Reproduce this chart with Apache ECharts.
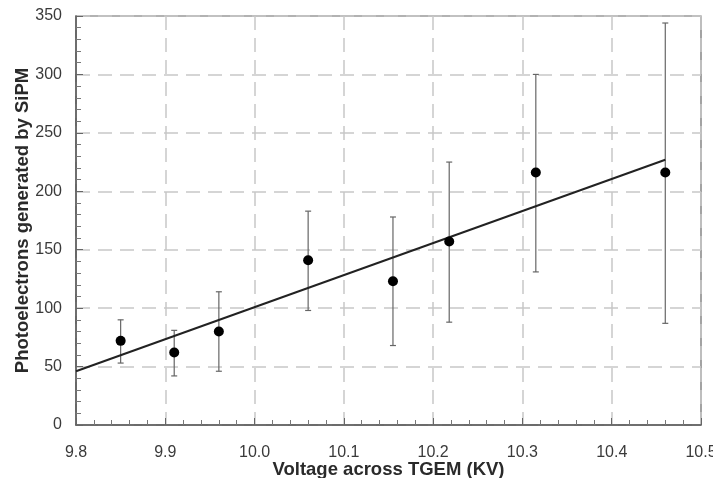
<!DOCTYPE html>
<html>
<head>
<meta charset="utf-8">
<script src="https://cdn.jsdelivr.net/npm/echarts@6/dist/echarts.min.js"></script>
<style>
  html, body { margin: 0; padding: 0; background: #fff; }
  #chart { width: 713px; height: 478px; }
</style>
</head>
<body>
<div id="chart"></div>
<script>
var voltage = [9.85, 9.91, 9.96, 10.06, 10.155, 10.218, 10.315, 10.46];
var photoelectrons = [72, 62, 80, 141, 123, 157, 216, 216];
var errLow = [53, 42, 46, 98, 68, 88, 131, 87];
var errHigh = [90, 81, 114, 183, 178, 225, 300, 344];
var fitX = [9.8, 10.46];
var fitY = [46, 227];

var points = voltage.map(function (v, i) { return [v, photoelectrons[i]]; });
var bars = voltage.map(function (v, i) { return [v, errLow[i], errHigh[i]]; });
var fit = fitX.map(function (v, i) { return [v, fitY[i]]; });

var myChart = echarts.init(document.getElementById('chart'));
var labelFont = 'Liberation Sans, Arial, sans-serif';

var option = {
    animation: false,
    grid: {
        left: 76,
        right: 12,
        top: 16,
        bottom: 53,
        outerBoundsMode: 'none',
        containLabel: false,
        show: true,
        borderColor: '#666',
        borderWidth: 1.2
    },
    xAxis: {
        type: 'value',
        min: 9.8,
        max: 10.5,
        interval: 0.1,
        name: 'Voltage across TGEM (KV)',
        nameLocation: 'middle',
        nameGap: 35,
        nameMoveOverlap: false,
        nameTextStyle: { color: '#2a2a2a', fontSize: 18.5, fontWeight: 'bold', fontFamily: labelFont },
        axisLine: { lineStyle: { color: '#555', width: 1.5 } },
        axisTick: { inside: true, length: 7, lineStyle: { color: '#666' } },
        minorTick: { show: true, splitNumber: 5, length: 5, lineStyle: { color: '#777' } },
        axisLabel: {
            color: '#3a3a3a', fontSize: 16, fontFamily: labelFont, margin: 20,
            formatter: function (v) { return v.toFixed(1); }
        },
        splitLine: { show: true, lineStyle: { color: '#c8c8c8', width: 1.5, type: [14, 8] } }
    },
    yAxis: {
        type: 'value',
        min: 0,
        max: 350,
        interval: 50,
        name: 'Photoelectrons generated by SiPM',
        nameLocation: 'middle',
        nameGap: 44,
        nameMoveOverlap: false,
        nameTextStyle: { color: '#2a2a2a', fontSize: 18.5, fontWeight: 'bold', fontFamily: labelFont },
        axisLine: { show: true, lineStyle: { color: '#555', width: 1.5 } },
        axisTick: { show: true, inside: true, length: 7, lineStyle: { color: '#666' } },
        minorTick: { show: true, splitNumber: 5, length: 5, lineStyle: { color: '#777' } },
        axisLabel: { color: '#3a3a3a', fontSize: 16, fontFamily: labelFont, margin: 14 },
        splitLine: { show: true, lineStyle: { color: '#c8c8c8', width: 1.5, type: [14, 8] } }
    },
    series: [
        {
            name: 'error',
            type: 'custom',
            data: bars,
            z: 2,
            renderItem: function (params, api) {
                var x = api.value(0);
                var lo = api.coord([x, api.value(1)]);
                var hi = api.coord([x, api.value(2)]);
                var cap = 3;
                var style = { stroke: '#666', lineWidth: 1.2 };
                return {
                    type: 'group',
                    children: [
                        { type: 'line', shape: { x1: lo[0], y1: lo[1], x2: hi[0], y2: hi[1] }, style: style },
                        { type: 'line', shape: { x1: lo[0] - cap, y1: lo[1], x2: lo[0] + cap, y2: lo[1] }, style: style },
                        { type: 'line', shape: { x1: hi[0] - cap, y1: hi[1], x2: hi[0] + cap, y2: hi[1] }, style: style }
                    ]
                };
            }
        },
        {
            name: 'fit',
            type: 'line',
            data: fit,
            symbol: 'none',
            z: 3,
            lineStyle: { color: '#222', width: 2 }
        },
        {
            name: 'data',
            type: 'scatter',
            data: points,
            symbol: 'circle',
            symbolSize: 10,
            z: 4,
            itemStyle: { color: '#000', opacity: 1 }
        }
    ]
};

option && myChart.setOption(option);
window.addEventListener('resize', function () {
    myChart.resize();
});
</script>
</body>
</html>
